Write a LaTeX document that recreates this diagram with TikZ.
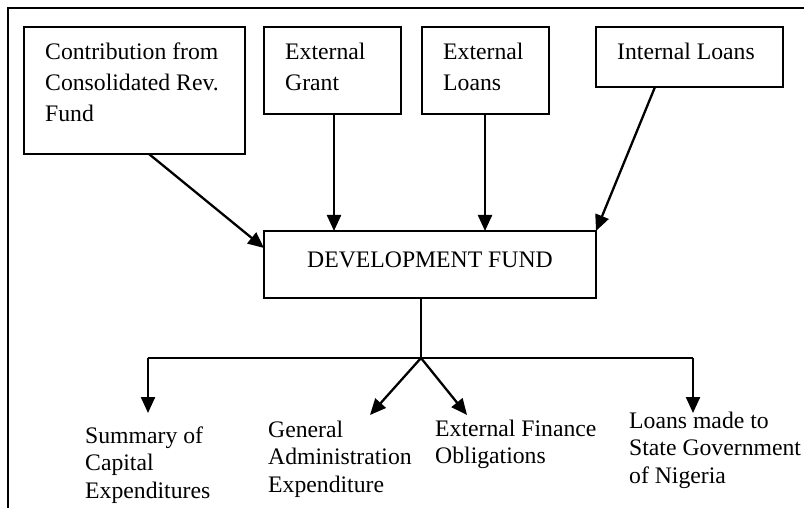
\documentclass[tikz,border=0pt]{standalone}
\usepackage{fontspec}
\setmainfont{Liberation Serif}
\usetikzlibrary{arrows.meta}
\begin{document}
\begin{tikzpicture}[x=1pt,y=-1pt,
  box/.style={draw, line width=1.7pt, inner sep=0pt, outer sep=0pt},
  toptext/.style={anchor=north west, inner sep=0pt, align=left, font=\fontsize{23.7}{31}\selectfont},
  bottext/.style={anchor=north west, inner sep=0pt, align=left, font=\fontsize{23.7}{27.5}\selectfont},
  arr/.style={line width=2.3pt, -{Triangle[length=16pt,width=14pt]}},
  plain/.style={line width=2pt}]
\useasboundingbox (0,0) rectangle (804,508);
\draw[line width=1.8pt] (8,508) -- (8,8) -- (804,8);
% top boxes
\node[box, minimum width=221pt, minimum height=127pt] (b1) at (134.5,90.5) {};
\node[box, minimum width=137pt, minimum height=87pt] (b2) at (332.5,70.5) {};
\node[box, minimum width=127pt, minimum height=87pt] (b3) at (485.5,70.5) {};
\node[box, minimum width=187pt, minimum height=60pt] (b4) at (689.5,57) {};
\node[toptext] (t1) at (45,37.3) {\strut Contribution from\\Consolidated Rev.\\Fund};
\node[toptext] (t2) at (285,37.3) {\strut External\\Grant};
\node[toptext] (t3) at (443,37.3) {\strut External\\Loans};
\node[toptext] (t4) at (617,37.3) {\strut Internal Loans};
% development fund
\node[box, minimum width=332pt, text height=36pt, text depth=31pt, font=\fontsize{23.7}{31}\selectfont] (dev) at (430,264.5) {DEVELOPMENT FUND};
% arrows in
\draw[arr] ([xshift=14.5pt]b1.south) -- ([yshift=16.5pt]dev.west);
\draw[arr] ([xshift=1.5pt]b2.south) -- ([xshift=1.5pt]b2.south |- dev.north);
\draw[arr] ([xshift=-0.5pt]b3.south) -- ([xshift=-0.5pt]b3.south |- dev.north);
\draw[arr] ([xshift=-34.5pt]b4.south) -- (dev.north east);
% outputs
\coordinate (j) at (421,358);
\coordinate (cl) at (148,358);
\coordinate (cr) at (693,358);
\draw[plain] (dev.south -| j) -- (j);
\draw[plain] (cl) -- (cr);
\draw[arr] (cl) -- ++(0,55);
\draw[arr] (cr) -- ++(0,55);
\draw[arr] (j) -- (370,415);
\draw[arr] (j) -- (467,415);
\node[bottext] (o1) at (85,423.75) {\strut Summary of\\Capital\\Expenditures};
\node[bottext] (o2) at (268,417.75) {\strut General\\Administration\\Expenditure};
\node[bottext] (o3) at (435,416.75) {\strut External Finance\\Obligations};
\node[bottext] (o4) at (629,408.75) {\strut Loans made to\\State Government\\of Nigeria};
\end{tikzpicture}
\end{document}
